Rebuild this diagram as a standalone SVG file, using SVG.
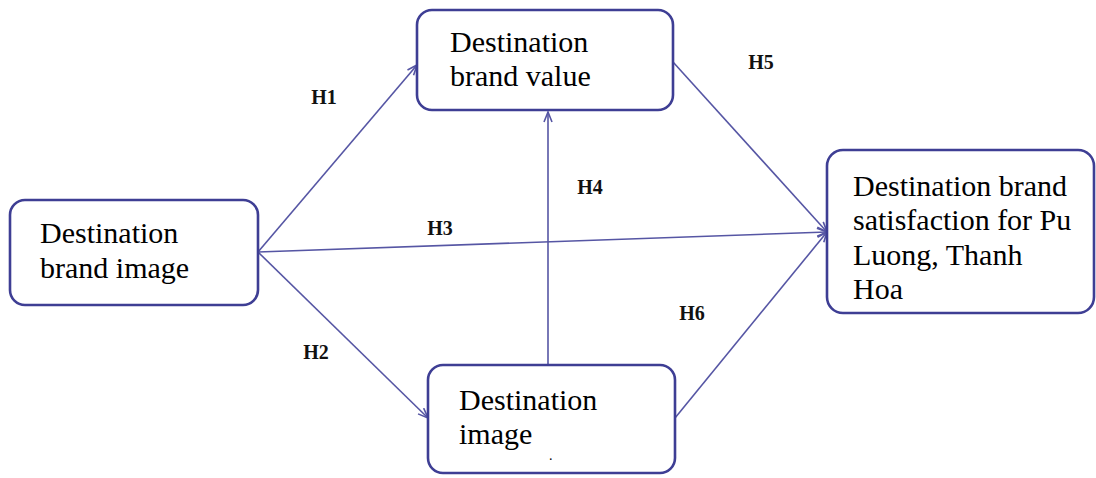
<svg xmlns="http://www.w3.org/2000/svg" width="1096" height="478" viewBox="0 0 1096 478">
<defs>
<marker id="arr" markerWidth="12" markerHeight="10" refX="11" refY="5" orient="auto" markerUnits="userSpaceOnUse">
<path d="M1,1 L11,5 L1,9" fill="none" stroke="#5656a4" stroke-width="1.6"/>
</marker>
</defs>
<style>
.box{fill:#ffffff;stroke:#3e3e94;stroke-width:2.6}
.lbl{font-family:"Liberation Serif","Times New Roman",serif;font-size:30px;fill:#000}
.h{font-family:"Liberation Serif","Times New Roman",serif;font-size:20px;font-weight:bold;fill:#111;text-anchor:middle}
.c{fill:none;stroke:#5656a4;stroke-width:1.6}
</style>
<rect width="1096" height="478" fill="#ffffff"/>
<g id="connectors">
<line class="c" x1="258" y1="252" x2="417" y2="65" marker-end="url(#arr)"/>
<line class="c" x1="258" y1="252" x2="428" y2="418" marker-end="url(#arr)"/>
<line class="c" x1="258" y1="252" x2="827" y2="232" marker-end="url(#arr)"/>
<line class="c" x1="548" y1="365" x2="548" y2="112" marker-end="url(#arr)"/>
<line class="c" x1="673" y1="62" x2="827" y2="232" marker-end="url(#arr)"/>
<line class="c" x1="675" y1="418" x2="827" y2="232" marker-end="url(#arr)"/>
</g>
<g id="labels">
<text class="h" x="324" y="104">H1</text>
<text class="h" x="316" y="359">H2</text>
<text class="h" x="440" y="235">H3</text>
<text class="h" x="590" y="194">H4</text>
<text class="h" x="761" y="69">H5</text>
<text class="h" x="692" y="320">H6</text>
</g>
<g id="node-brand-image">
<rect class="box" x="10" y="200" width="248" height="105" rx="15"/>
<text class="lbl" x="40" y="243">Destination</text>
<text class="lbl" x="40" y="278">brand image</text>
</g>
<g id="node-brand-value">
<rect class="box" x="417" y="10" width="256" height="100" rx="15"/>
<text class="lbl" x="450" y="52">Destination</text>
<text class="lbl" x="450" y="86">brand value</text>
</g>
<g id="node-image">
<rect class="box" x="428" y="365" width="247" height="108" rx="15"/>
<text class="lbl" x="459" y="410">Destination</text>
<text class="lbl" x="459" y="444">image</text>
<text class="lbl" x="549" y="460" style="font-size:14px">.</text>
</g>
<g id="node-satisfaction">
<rect class="box" x="827" y="150" width="267" height="163" rx="16"/>
<text class="lbl" x="853" y="196">Destination brand</text>
<text class="lbl" x="853" y="230">satisfaction for Pu</text>
<text class="lbl" x="853" y="265">Luong, Thanh</text>
<text class="lbl" x="853" y="299">Hoa</text>
</g>
</svg>
